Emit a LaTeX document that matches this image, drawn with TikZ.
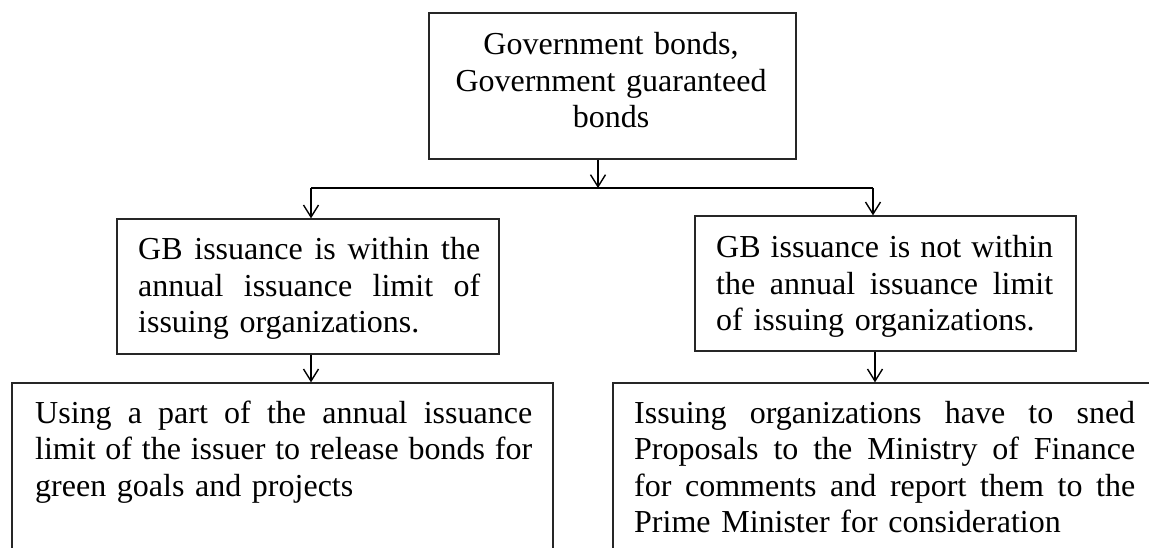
\documentclass[tikz,border=0pt]{standalone}
\usepackage{fontspec}
\setmainfont{Liberation Serif}
\usetikzlibrary{arrows.meta}
\newcommand\jl[2]{\leavevmode\hbox to #1{\spaceskip=\fontdimen2\font plus 1fil\relax #2}}
\begin{document}
\begin{tikzpicture}[x=1pt,y=-1pt,
  box/.style={draw=black!85, line width=1.3pt, inner sep=0pt, rectangle},
  txt/.style={inner sep=0pt, font={\fontsize{32}{36.5}\selectfont}, align=left, anchor=base west},
  conn/.style={draw=black, line width=1.4pt},
  arr/.style={conn, -{Straight Barb[length=12pt,width=15pt,line width=1.4pt]}}]
\useasboundingbox (0,0) rectangle (1149,548);
\clip (0,0) rectangle (1149,548);
% boxes
\node[box, minimum width=367pt, minimum height=146pt] (top) at (612.5,86) {};
\node[box, minimum width=382pt, minimum height=135pt] (lmid) at (308,286.5) {};
\node[box, minimum width=381pt, minimum height=135pt] (rmid) at (885.5,283.5) {};
\node[box, minimum width=541pt, minimum height=230pt] (lbot) at (282.5,498) {};
\node[box, minimum width=577pt, minimum height=230pt] (rbot) at (901.5,498) {};
% texts
\node[txt, align=center, anchor=base, text width=360pt] (ttop) at (611,55)
  {Government bonds,\\Government guaranteed\\bonds};
\node[txt, text width=342pt] (tlmid) at (138,260)
  {\jl{342pt}{GB issuance is within the}\\
   \jl{342pt}{annual issuance limit of}\\
   issuing organizations.};
\node[txt, text width=337pt] (trmid) at (716,258)
  {\jl{337pt}{GB issuance is not within}\\
   \jl{337pt}{the annual issuance limit}\\
   of issuing organizations.};
\node[txt, text width=497pt] (tlbot) at (35,423)
  {\jl{497pt}{Using a part of the annual issuance}\\
   \jl{497pt}{limit of the issuer to release bonds for}\\
   green goals and projects};
\node[txt, text width=501pt] (trbot) at (634,423)
  {\jl{501pt}{Issuing organizations have to sned}\\
   \jl{501pt}{Proposals to the Ministry of Finance}\\
   \jl{501pt}{for comments and report them to the}\\
   Prime Minister for consideration};
% connectors
\coordinate (split) at (598,188);
\coordinate (bl) at (311,188);
\coordinate (br) at (873,188);
\coordinate (br2) at (875,188);
\draw[arr] (top.south -| split) -- (split);
\draw[conn] (bl) -- (br);
\draw[arr] (bl) -- (bl |- lmid.north);
\draw[arr] (br) -- (br |- rmid.north);
\draw[arr] (lmid.south -| bl) -- (bl |- lbot.north);
\draw[arr] (rmid.south -| br2) -- (br2 |- rbot.north);
\end{tikzpicture}
\end{document}
